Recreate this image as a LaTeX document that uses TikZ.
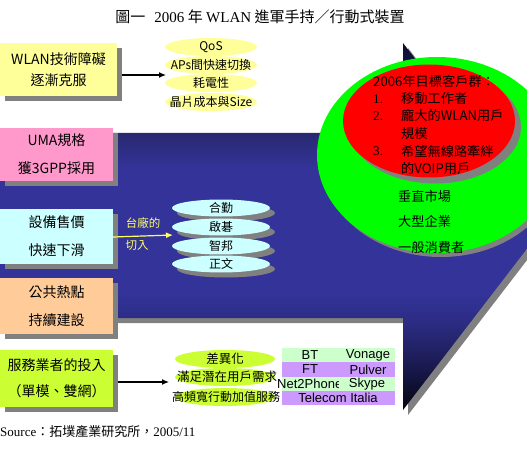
\documentclass[tikz,border=0pt]{standalone}
\usepackage{fontspec}
\setmainfont{Noto Sans CJK TC}
\newfontfamily\serifL{Liberation Serif}
\newfontfamily\sansL{Liberation Sans}
\usetikzlibrary{shapes.geometric,shadows,arrows.meta}
\definecolor{byellow}{HTML}{FFFF99}
\definecolor{bpink}{HTML}{FF99CC}
\definecolor{bcyan}{HTML}{CCFFFF}
\definecolor{borange}{HTML}{FFCC99}
\definecolor{blime}{HTML}{CCFF33}
\definecolor{shgray}{HTML}{808080}
\definecolor{tgreen}{HTML}{CCFFCC}
\definecolor{tlav}{HTML}{CC99FF}
\definecolor{atop}{HTML}{0C0C34}
\definecolor{aupper}{HTML}{28286E}
\definecolor{amid}{HTML}{333399}
\definecolor{alower}{HTML}{2C2C84}
\definecolor{alow}{HTML}{1A1A50}
\definecolor{abot}{HTML}{040410}
\definecolor{lblyel}{HTML}{FFFF66}
\pgfdeclareverticalshading{arrowsh}{100bp}{color(0bp)=(abot); color(25bp)=(abot); color(31bp)=(alow); color(37bp)=(alower); color(41bp)=(amid); color(58bp)=(amid); color(63bp)=(aupper); color(75bp)=(atop); color(100bp)=(atop)}
\begin{document}
\begin{tikzpicture}[x=1pt,y=-1pt,
  shad/.style={drop shadow={shadow xshift=#1,shadow yshift=-#1,fill=shgray,opacity=1}},
  sbox/.style={rectangle, inner sep=0pt, minimum width=113pt, align=center,
    shad=5pt, font=\fontsize{14}{28}\selectfont},
  yel/.style={ellipse, fill=byellow, minimum width=92pt, minimum height=18pt, inner sep=0pt},
  lim/.style={ellipse, fill=blime, minimum width=100pt, minimum height=18pt, inner sep=0pt},
  disk/.style={ellipse, fill=bcyan, minimum width=98pt, minimum height=17pt, inner sep=0pt, shad=5pt},
  lbl/.style={inner sep=0pt, font=\fontsize{12}{13}\selectfont},
  rtxt/.style={inner sep=0pt, anchor=west, font=\fontsize{13.2}{15}\selectfont},
  trow/.style={rectangle, inner sep=0pt, minimum width=113pt, minimum height=14.25pt, anchor=north west},
  ttxt/.style={inner sep=0pt, font=\sansL\fontsize{13}{14}\selectfont},
  blk/.style={-{Latex[length=7pt,width=6pt]}, line width=1.2pt},
]
\useasboundingbox (0,0) rectangle (527,468);
\fill[white] (0,0) rectangle (527,468);

% big background arrow
\begin{scope}
\clip (0,0) rectangle (527,468);
\fill[shgray] (0,138) -- (408,138) -- (408,48) -- (549,231.5) -- (408,415) -- (408,323) -- (0,323) -- cycle;
\shade[shading=arrowsh]
  (0,133) -- (403,133) -- (403,43) -- (544,226.5) -- (403,410) -- (403,318) -- (0,318) -- cycle;
% target customer circles
\node[ellipse, fill=green, minimum width=240pt, minimum height=196pt, inner sep=0pt, shad=4pt] (grn) at (437,155) {};
\node[ellipse, fill=red, minimum width=172pt, minimum height=113pt, inner sep=0pt, shad=6pt] (rd) at (429,121) {};
\end{scope}

% title
\node[inner sep=0pt, font=\fontsize{15}{17}\selectfont] (title) at (260,17)
  {圖一\hspace{9pt}{\serifL 2006} 年 {\serifL WLAN} 進軍手持／行動式裝置};

% left boxes
\node[sbox, fill=byellow, minimum width=117pt, minimum height=53pt, font=\fontsize{14}{21}\selectfont] (b1) at (58.5,70) {WLAN技術障礙\\逐漸克服};
\node[sbox, fill=bpink, minimum height=53pt] (b2) at (56.5,154.5) {UMA規格\\獲3GPP採用};
\node[sbox, fill=bcyan, minimum height=55pt] (b3) at (56.5,236) {設備售價\\快速下滑};
\node[sbox, fill=borange, minimum height=56pt] (b4) at (56.5,306) {公共熱點\\持續建設};
\node[sbox, fill=blime, minimum height=57pt, font=\fontsize{14}{26}\selectfont] (b5) at (56.5,378) {服務業者的投入\\（單模、雙網）};

% yellow ellipses
\node[yel] (q1) at (211,47) {};
\node[yel] (q2) at (211,65) {};
\node[yel] (q3) at (211,83) {};
\node[yel] (q4) at (211,102) {};
\node[lbl] (q1t) at (q1) {QoS};
\node[lbl] (q2t) at (q2) {APs間快速切換};
\node[lbl] (q3t) at (q3) {耗電性};
\node[lbl] (q4t) at (q4) {晶片成本與Size};
\coordinate (a1e) at (166,75);
\draw[blk] ([xshift=5pt,yshift=-5pt]b1.east) -- (a1e);

% disks
\node[disk] (d1) at (221,208) {};
\node[lbl] (d1t) at (d1) {合勤};
\node[disk] (d2) at (221,227) {};
\node[lbl] (d2t) at (d2) {啟碁};
\node[disk] (d3) at (221,246) {};
\node[lbl] (d3t) at (d3) {智邦};
\node[disk] (d4) at (221,264) {};
\node[lbl] (d4t) at (d4) {正文};
\coordinate (a3e) at (173,235);
\draw[-{Latex[length=7pt,width=6pt]}, line width=1.2pt, lblyel] ([yshift=-1pt]b3.east) -- (a3e);
\node[lbl, text=lblyel, font=\fontsize{11.5}{12}\selectfont] (tw1) at (143,223) {台廠的};
\node[lbl, text=lblyel, font=\fontsize{11.5}{12}\selectfont] (tw2) at (137,245) {切入};

% lime ellipses
\node[lim] (l1) at (225,359) {};
\node[lim] (l2) at (225,377) {};
\node[lim] (l3) at (225,397) {};
\node[lbl, font=\fontsize{12.5}{13}\selectfont] (l1t) at (l1) {差異化};
\node[lbl, font=\fontsize{12.5}{13}\selectfont] (l2t) at (227,377) {滿足潛在用戶需求};
\node[lbl, font=\fontsize{12}{13}\selectfont] (l3t) at (226,397) {高頻寬行動加值服務};
\coordinate (a5e) at (169,382);
\draw[blk] ([xshift=5pt,yshift=-4pt]b5.east) -- (a5e);

% operator table
\node[trow, fill=tgreen] (r1) at (282,348) {};
\node[trow, fill=tlav] (r2) at (282,362.25) {};
\node[trow, fill=tgreen] (r3) at (282,376.5) {};
\node[trow, fill=tlav] (r4) at (282,390.75) {};
\node[ttxt] (t11) at (310,355.5) {BT};
\node[ttxt] (t12) at (368,355.5) {Vonage};
\node[ttxt] (t21) at (310,369.5) {FT};
\node[ttxt] (t22) at (368,369.5) {Pulver};
\begin{scope}
\clip (276,376.5) rectangle (338,390.75);
\node[ttxt, anchor=west] (t31) at (277,384) {Net2Phone};
\end{scope}
\node[ttxt] (t32) at (367,384) {Skype};
\node[ttxt] (t41) at (338,398) {Telecom Italia};

% red circle text
\node[rtxt] (c0) at (373,81) {2006年目標客戶群：};
\node[rtxt] (c1n) at (373,99) {\serifL 1.};
\node[rtxt] (c1) at (401,99) {移動工作者};
\node[rtxt] (c2n) at (373,116) {\serifL 2.};
\node[rtxt] (c2) at (401,116) {龐大的WLAN用戶};
\node[rtxt] (c2b) at (401,133) {規模};
\node[rtxt] (c3n) at (373,151) {\serifL 3.};
\node[rtxt] (c3) at (401,151) {希望無線路牽絆};
\node[rtxt] (c3b) at (401,168) {的VOIP用戶};

% green circle text
\node[rtxt] (g1) at (398,196) {垂直市場};
\node[rtxt] (g2) at (398,221) {大型企業};
\node[rtxt] (g3) at (398,247) {一般消費者};

% source
\node[inner sep=0pt, anchor=west, font=\fontsize{13}{14}\selectfont] (src) at (0,432)
  {{\serifL Source}：拓墣產業研究所，{\serifL 2005/11}};
\end{tikzpicture}
\end{document}
